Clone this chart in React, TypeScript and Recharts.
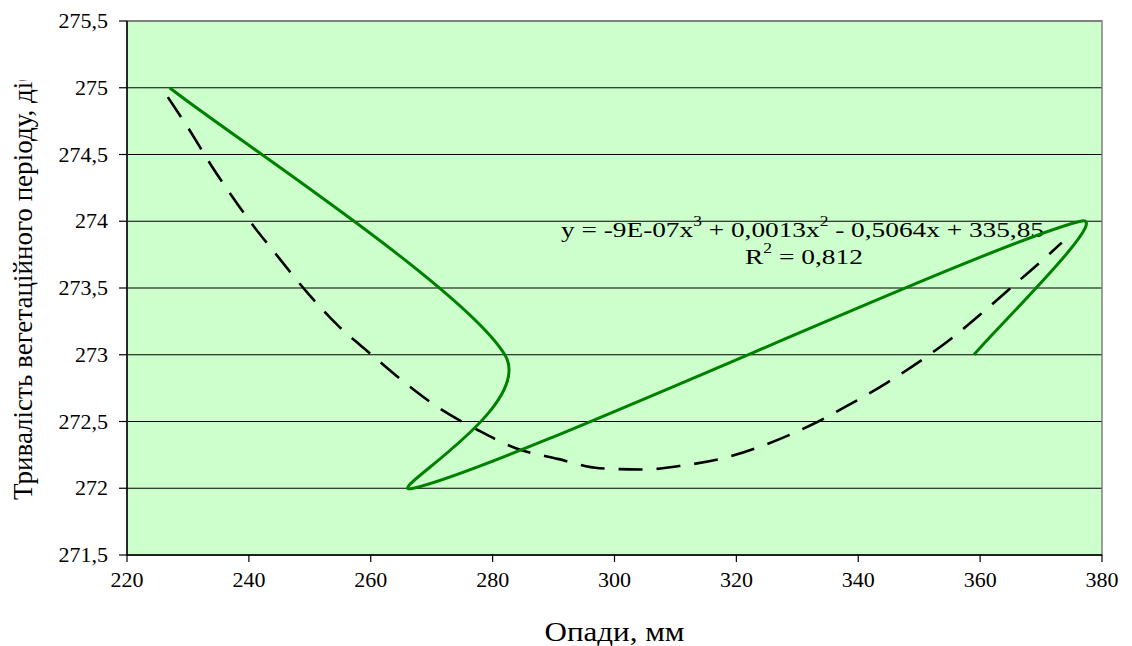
import React from 'react';
import {
  ScatterChart,
  Scatter,
  XAxis,
  YAxis,
  CartesianGrid,
  ReferenceArea,
  Customized,
} from 'recharts';

// Observed series (smoothed green line)
const precipitation = [227, 282, 267, 376.5, 359];
const duration = [275, 273, 272, 274, 273];

// Polynomial trendline (dashed black line)
const trendX = [
  226.7, 230.3, 233.8, 237.2, 241.0, 243.8, 249.7, 254.6, 259.9, 265.6, 270.9,
  277.4, 283.8, 290.7, 297.5, 304.5, 311.2, 318.3, 325.0, 332.1, 338.3, 344.7,
  350.1, 355.5, 360.5, 366.5, 371.5, 373.4,
];
const trendY = [
  274.93, 274.68, 274.42, 274.19, 273.95, 273.79, 273.46, 273.22, 273.01,
  272.79, 272.61, 272.44, 272.3, 272.22, 272.15, 272.14, 272.17, 272.23,
  272.33, 272.47, 272.62, 272.79, 272.95, 273.13, 273.32, 273.56, 273.76,
  273.84,
];

const xTicks = [220, 240, 260, 280, 300, 320, 340, 360, 380];
const yTicks = [271.5, 272, 272.5, 273, 273.5, 274, 274.5, 275, 275.5];

const xTitle = 'Опади, мм';
const yTitle = 'Тривалість вегетаційного періоду, діб';
const equationParts = ['y = -9E-07x', '3', ' + 0,0013x', '2', ' - 0,5064x + 335,85'];
const r2Parts = ['R', '2', ' = 0,812'];

const observed = precipitation.map((x, i) => ({ x, y: duration[i] }));
const trend = trendX.map((x, i) => ({ x, y: trendY[i] }));

const FONT = "'Liberation Serif', 'Times New Roman', serif";

// Smoothed curve: Catmull-Rom tangents; on the shorter side of a sharp turn the arm is softened
const TURN_POW = 0.75;
const excelCurve = (context: any) => {
  let pts: number[][] = [];
  const dist = (a: number[], b: number[]) => Math.hypot(b[0] - a[0], b[1] - a[1]);
  const unit = (a: number[], b: number[]) => {
    const l = dist(a, b) || 1;
    return [(b[0] - a[0]) / l, (b[1] - a[1]) / l];
  };
  return {
    areaStart() {},
    areaEnd() {},
    lineStart() {
      pts = [];
    },
    point(x: number, y: number) {
      pts.push([+x, +y]);
    },
    lineEnd() {
      const n = pts.length;
      if (!n) return;
      context.moveTo(pts[0][0], pts[0][1]);
      // returns [armIn, armOut] vectors for point i
      const arms = (i: number) => {
        const a = pts[Math.max(0, i - 1)];
        const b = pts[Math.min(n - 1, i + 1)];
        const base = [(b[0] - a[0]) / 6, (b[1] - a[1]) / 6];
        const baseLen = Math.hypot(base[0], base[1]) || 1;
        let sIn = 1;
        let sOut = 1;
        const dIn = dist(a, pts[i]);
        const dOut = dist(pts[i], b);
        if (i > 0 && i < n - 1) {
          const ui = unit(a, pts[i]);
          const uo = unit(pts[i], b);
          const c = Math.pow(Math.hypot(ui[0] + uo[0], ui[1] + uo[1]) / 2, TURN_POW);
          if (dIn <= dOut) sIn = c;
          else sOut = c;
        }
        const capIn = dIn > 0 ? Math.min(sIn, (0.5 * dIn) / baseLen) : sIn;
        const capOut = dOut > 0 ? Math.min(sOut, (0.5 * dOut) / baseLen) : sOut;
        return [
          [base[0] * capIn, base[1] * capIn],
          [base[0] * capOut, base[1] * capOut],
        ];
      };
      for (let i = 0; i < n - 1; i++) {
        const p1 = pts[i];
        const p2 = pts[i + 1];
        const a1 = arms(i)[1];
        const a2 = arms(i + 1)[0];
        context.bezierCurveTo(p1[0] + a1[0], p1[1] + a1[1], p2[0] - a2[0], p2[1] - a2[1], p2[0], p2[1]);
      }
    },
  };
};

const NoShape = () => <g />;

const fmt = (v: number) => String(v).replace('.', ',');

const XTick = (props: any) => {
  const { x, y, payload } = props;
  return (
    <text x={x} y={y + 25} textAnchor="middle" fontFamily={FONT} fontSize={22} fill="#000">
      {fmt(payload.value)}
    </text>
  );
};

const YTick = (props: any) => {
  const { x, y, payload } = props;
  return (
    <text x={x} y={y + 7} textAnchor="end" fontFamily={FONT} fontSize={22} fill="#000">
      {fmt(payload.value)}
    </text>
  );
};

const XTitle = (props: any) => {
  const vb = props.viewBox || { x: 127, y: 555, width: 975 };
  const cx = vb.x + vb.width / 2;
  return (
    <text
      x={cx}
      y={vb.y + 86}
      textAnchor="middle"
      fontFamily={FONT}
      fontSize={27}
      fill="#000"
      textLength={140}
      lengthAdjust="spacingAndGlyphs"
    >
      {xTitle}
    </text>
  );
};

const YTitle = () => {
  const bx = 32;
  const by = 500;
  return (
    <g>
      <defs>
        <clipPath id="ytitle-clip">
          <rect x={0} y={80} width={100} height={560} />
        </clipPath>
      </defs>
      <g clipPath="url(#ytitle-clip)">
        <text
          x={bx}
          y={by}
          transform={`rotate(-90 ${bx} ${by})`}
          fontFamily={FONT}
          fontSize={28}
          fill="#000"
          textLength={432}
          lengthAdjust="spacingAndGlyphs"
        >
          {yTitle}
        </text>
      </g>
    </g>
  );
};

const Equation = () => (
  <g fontFamily={FONT} fill="#000">
    <text x={561} y={237} fontSize={22} textLength={483} lengthAdjust="spacingAndGlyphs">
      {equationParts[0]}
      <tspan dy={-11} fontSize={14}>{equationParts[1]}</tspan>
      <tspan dy={11}>{equationParts[2]}</tspan>
      <tspan dy={-11} fontSize={14}>{equationParts[3]}</tspan>
      <tspan dy={11}>{equationParts[4]}</tspan>
    </text>
    <text x={745} y={264} fontSize={22} textLength={118} lengthAdjust="spacingAndGlyphs">
      {r2Parts[0]}
      <tspan dy={-11} fontSize={14}>{r2Parts[1]}</tspan>
      <tspan dy={11}>{r2Parts[2]}</tspan>
    </text>
  </g>
);

export default function App() {
  return (
    <div style={{ width: 1132, height: 646 }}>
      <style>{`body{margin:0;}`}</style>
      <ScatterChart
        width={1132}
        height={646}
        margin={{ top: 21, right: 30, bottom: 0, left: 0 }}
      >
        <CartesianGrid vertical={false} stroke="#000" strokeWidth={1.2} fill="#CCFFCC" />
        <ReferenceArea
          x1={220}
          x2={380}
          y1={271.5}
          y2={275.5}
          fill="none"
          stroke="#808080"
          strokeWidth={1.5}
          ifOverflow="visible"
        />
        <XAxis
          type="number"
          dataKey="x"
          domain={[220, 380]}
          ticks={xTicks}
          allowDataOverflow
          height={91}
          tickSize={7}
          tickMargin={0}
          axisLine={{ stroke: '#000', strokeWidth: 1.5 }}
          tickLine={{ stroke: '#000', strokeWidth: 1.2 }}
          tick={XTick}
          label={{ content: XTitle }}
        />
        <YAxis
          type="number"
          dataKey="y"
          domain={[271.5, 275.5]}
          ticks={yTicks}
          allowDataOverflow
          width={127}
          tickSize={8}
          tickMargin={11}
          axisLine={{ stroke: '#000', strokeWidth: 1.5 }}
          tickLine={{ stroke: '#000', strokeWidth: 1.2 }}
          tick={YTick}
          label={{ content: YTitle }}
        />
        <Scatter
          data={trend}
          fill="#000"
          line={{ stroke: '#000', strokeWidth: 2.6, strokeDasharray: '24 14' }}
          lineJointType="monotoneX"
          shape={NoShape}
          isAnimationActive={false}
        />
        <Scatter
          data={observed}
          fill="#008000"
          line={{ stroke: '#008000', strokeWidth: 3 }}
          lineJointType={excelCurve as any}
          shape={NoShape}
          isAnimationActive={false}
        />
        <Customized component={Equation} />
      </ScatterChart>
    </div>
  );
}
